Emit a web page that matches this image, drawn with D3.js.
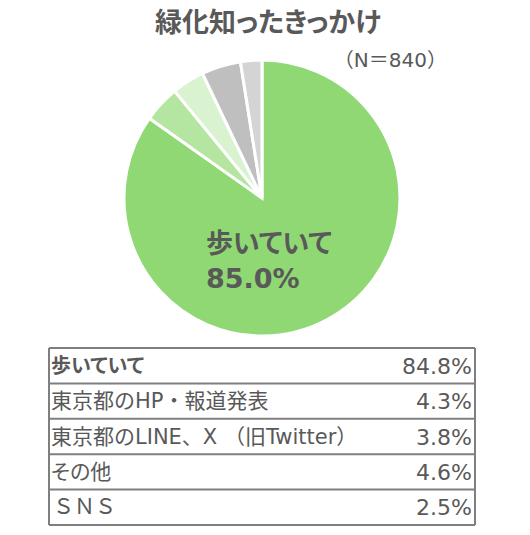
<!DOCTYPE html>
<html><head><meta charset="utf-8">
<script src="https://cdn.jsdelivr.net/npm/d3@7"></script>
<style>body{margin:0;background:#fff;}svg{display:block;} .palt{font-feature-settings:"palt";}</style>
</head><body>
<script>
const categories = ["歩いていて","東京都のHP・報道発表","東京都のLINE、X （旧Twitter）","その他","ＳＮＳ"];
const values = [84.8, 4.3, 3.8, 4.6, 2.5];
const valueLabels = ["84.8%","4.3%","3.8%","4.6%","2.5%"];
const colors = ["#8fd873","#b4e5a1","#d9f2d0","#bfbfbf","#d4d4d4"];
const title = "緑化知ったきっかけ";
const nLabel = "（N＝840）";
const pieLabel = ["歩いていて","85.0%"];

const W=530,H=535;
const font = "'DejaVu Sans','Noto Sans CJK JP',sans-serif";
const textColor="#595959";
const svg=d3.select("body").append("svg").attr("width",W).attr("height",H);

svg.append("text").attr("class","palt").attr("x",268).attr("y",32).attr("text-anchor","middle")
  .attr("font-family","'Noto Sans CJK JP',sans-serif").attr("font-weight","bold").attr("font-size",27)
  .attr("fill",textColor).text(title);
svg.append("text").attr("x",447).attr("y",67).attr("text-anchor","end")
  .attr("font-family",font).attr("font-size",20)
  .attr("fill",textColor).text(nLabel);

const cx=262, cy=198, r=138;
const pie=d3.pie().sort(null).value(d=>d)(values);
const arc=d3.arc().innerRadius(0).outerRadius(r);
const g=svg.append("g").attr("transform",`translate(${cx},${cy})`);
g.selectAll("path").data(pie).join("path")
  .attr("d",arc).attr("fill",(d,i)=>colors[i])
  .attr("stroke","#fff").attr("stroke-width",3).attr("stroke-linejoin","miter");

const pl=svg.append("text").attr("class","palt").attr("font-family",font).attr("font-weight","bold")
  .attr("font-size",27).attr("fill",textColor);
pl.append("tspan").attr("x",206).attr("y",253).text(pieLabel[0]);
pl.append("tspan").attr("x",206).attr("y",288).text(pieLabel[1]);

// table
const tx0=49, tx1=475, ty0=348, ty1=525;
const y=d3.scaleBand().domain(categories).range([ty0,ty1]);
const tg=svg.append("g");
tg.selectAll("line.h").data(d3.range(categories.length+1)).join("line")
  .attr("x1",tx0).attr("x2",tx1)
  .attr("y1",i=>ty0+i*y.step()).attr("y2",i=>ty0+i*y.step())
  .attr("stroke","#7f7f7f").attr("stroke-width",2);
tg.append("line").attr("x1",tx0).attr("x2",tx0).attr("y1",ty0).attr("y2",ty1).attr("stroke","#7f7f7f").attr("stroke-width",2);
tg.append("line").attr("x1",tx1).attr("x2",tx1).attr("y1",ty0).attr("y2",ty1).attr("stroke","#7f7f7f").attr("stroke-width",2);
tg.selectAll("text.c").data(categories).join("text")
  .attr("class",(d,i)=> (i===0||i===3)?"palt":null)
  .attr("x",(d,i)=> i===4?53:51).attr("y",d=>y(d)+y.bandwidth()/2+7)
  .attr("font-family",font).attr("font-size",(d,i)=>i===0?20:21)
  .attr("font-weight",(d,i)=>i===0?"bold":"normal")
  .attr("fill",textColor).text(d=>d);
tg.selectAll("text.v").data(valueLabels).join("text")
  .attr("x",472).attr("y",(d,i)=>y(categories[i])+y.bandwidth()/2+8)
  .attr("text-anchor","end")
  .attr("font-family",font).attr("font-size",22)
  .attr("fill",textColor).text(d=>d);
</script>
</body></html>
